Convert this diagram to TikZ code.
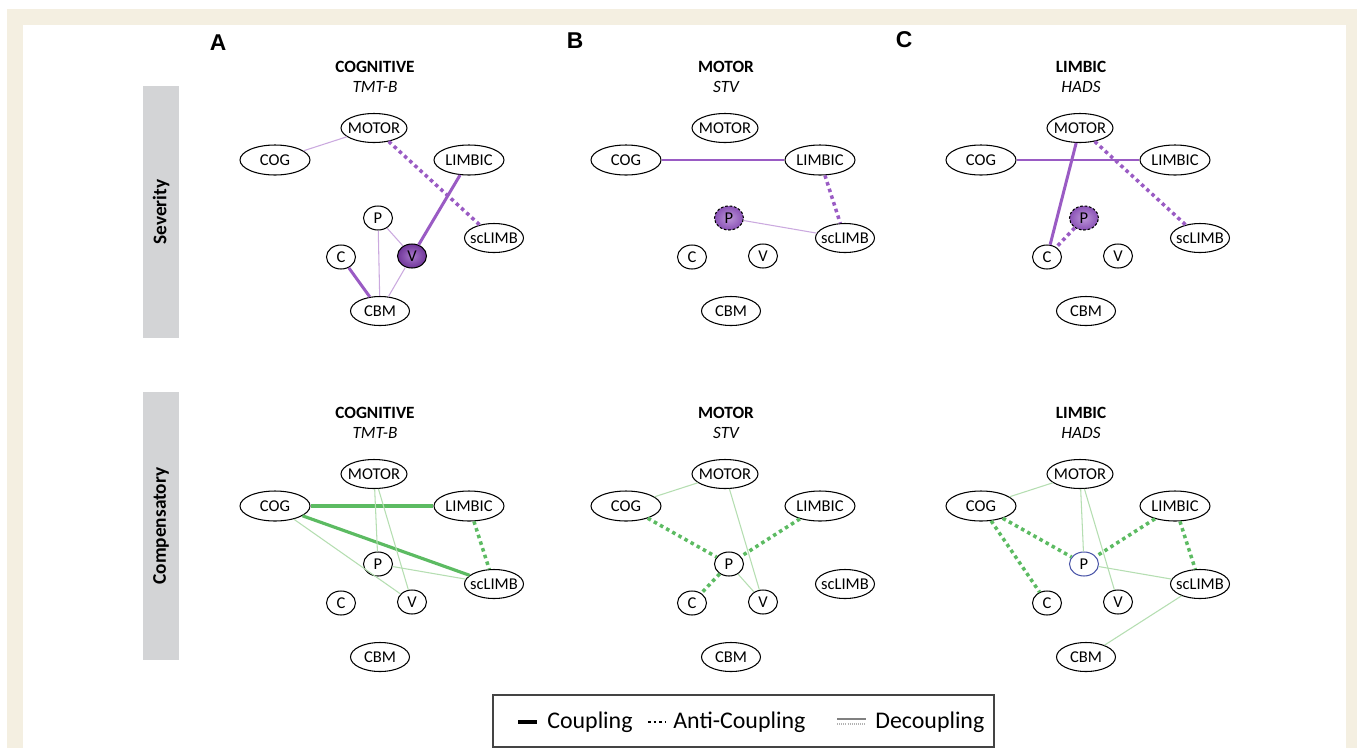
\documentclass[tikz,border=0pt]{standalone}
\usepackage{fontspec}
\setmainfont{Carlito}
\newfontfamily\letterfont{Liberation Sans}
\usetikzlibrary{shapes.geometric}
\definecolor{framebg}{HTML}{F4EFE1}
\definecolor{barfill}{HTML}{D3D4D6}
\definecolor{sevpurple}{HTML}{9A5BC4}
\definecolor{sevlight}{HTML}{CBA9DF}
\definecolor{hubinner}{HTML}{A878CC}
\definecolor{hubouter}{HTML}{6F3598}
\definecolor{pinner}{HTML}{BC96D8}
\definecolor{pouter}{HTML}{8A52B6}
\definecolor{compgreen}{HTML}{5CBB62}
\definecolor{complight}{HTML}{B5DEB1}
\definecolor{pblue}{HTML}{4A55A8}
\definecolor{legframe}{HTML}{444444}

\begin{document}
\begin{tikzpicture}[
    x=0.02cm, y=-0.02cm,
    region/.style={
        ellipse, draw=black, line width=0.6pt, fill=white,
        inner sep=0pt, inner xsep=-3pt, font=\fontsize{9.4}{11}\selectfont
    },
    bigreg/.style={region, minimum width=1.4cm, minimum height=0.6cm},
    motorreg/.style={region, minimum width=1.32cm, minimum height=0.58cm},
    midreg/.style={region, minimum width=1.18cm, minimum height=0.58cm},
    smallreg/.style={region, minimum width=0.58cm, minimum height=0.48cm},
    hilite sevAv/.style={shading=radial, inner color=hubinner, outer color=hubouter},
    hilite sevBp/.style={shading=radial, inner color=pinner, outer color=pouter,
        dash pattern=on 1.5pt off 1pt},
    hilite sevCp/.style={shading=radial, inner color=pinner, outer color=pouter,
        dash pattern=on 1.5pt off 1pt},
    hilite compCp/.style={draw=pblue},
    sevcpl/.style={draw=sevpurple, line width=1.7pt},
    sevanti/.style={draw=sevpurple, line width=2pt, dash pattern=on 2pt off 2pt},
    sevdec/.style={draw=sevlight, line width=0.6pt},
    compcpl/.style={draw=compgreen, line width=1.8pt},
    companti/.style={draw=compgreen, line width=2pt, dash pattern=on 2pt off 2pt},
    compdec/.style={draw=complight, line width=0.6pt},
    rowbar/.style={fill=barfill, rotate=90, minimum height=0.72cm,
        font=\bfseries\fontsize{11}{13}\selectfont},
    paneltitle/.style={font=\bfseries\fontsize{9.8}{11}\selectfont},
    panelsub/.style={font=\itshape\fontsize{9.8}{11}\selectfont},
    panelletter/.style={font=\letterfont\bfseries\fontsize{13}{15}\selectfont},
    legtext/.style={anchor=west, inner sep=0pt, font=\fontsize{13.6}{16}\selectfont}
]

% --- frame ---
\useasboundingbox (0,0) rectangle (1357,748);
\fill[framebg] (7,9) rectangle (1357,748);
\fill[white] (23,25) rectangle (1346,748);

% --- row labels ---
\node[rowbar, minimum width=5.04cm] (sevbar) at (161,212) {Severity};
\node[rowbar, minimum width=5.36cm] (compbar) at (161,526) {Compensatory};

% --- panel letters ---
\node[panelletter] (letA) at (218,43) {A};
\node[panelletter] (letB) at (575,41) {B};
\node[panelletter] (letC) at (904,40) {C};

% --- titles ---
\foreach \dy in {0, 346} {
    \foreach \dx/\ttl/\sub in {0/COGNITIVE/TMT-B, 351/MOTOR/STV, 706/LIMBIC/HADS} {
        \node[paneltitle] at (375+\dx, 67+\dy) {\ttl};
        \node[panelsub] at (375+\dx, 87+\dy) {\sub};
    }
}

% --- network nodes ---
\foreach \row/\dy in {sev/0, comp/346} {
    \foreach \col/\dx in {A/0, B/351, C/706} {
        \foreach \n/\txt/\x/\y/\sz in {motor/MOTOR/374/128/motorreg, cog/COG/275/160/bigreg,
            limbic/LIMBIC/469/160/bigreg, sclimb/scLIMB/494/238/midreg, cbm/CBM/380/311/midreg,
            p/P/378/218/smallreg, c/C/341/257/smallreg, v/V/412/256/smallreg} {
            \node[\sz, hilite \row\col\n/.try] (\row\col\n) at (\x+\dx, \y+\dy) {\txt};
        }
    }
}

% --- severity connections ---
\foreach \a/\b/\s in {sevAmotor/sevAcog/sevdec, sevAmotor/sevAsclimb/sevanti,
    sevAlimbic/sevAv/sevcpl, sevAp/sevAv/sevdec, sevAp/sevAcbm/sevdec,
    sevAc/sevAcbm/sevcpl, sevAv/sevAcbm/sevdec,
    sevBcog/sevBlimbic/sevcpl, sevBlimbic/sevBsclimb/sevanti, sevBp/sevBsclimb/sevdec,
    sevCcog/sevClimbic/sevcpl, sevCmotor/sevCc/sevcpl,
    sevCmotor/sevCsclimb/sevanti, sevCp/sevCc/sevanti} {
    \draw[\s] (\a) -- (\b);
}

% --- compensatory connections ---
\foreach \a/\b/\s in {compAcog/compAlimbic/compcpl, compAcog/compAsclimb/compcpl,
    compAlimbic/compAsclimb/companti, compAmotor/compAp/compdec,
    compAmotor/compAv/compdec, compAcog/compAv/compdec, compAp/compAsclimb/compdec,
    compBmotor/compBcog/compdec, compBmotor/compBv/compdec, compBcog/compBp/companti,
    compBlimbic/compBp/companti, compBp/compBc/companti, compBp/compBv/compdec,
    compCcog/compCmotor/compdec, compCmotor/compCp/compdec, compCmotor/compCv/compdec,
    compCcog/compCp/companti, compCcog/compCc/companti, compClimbic/compCp/companti,
    compClimbic/compCsclimb/companti, compCp/compCsclimb/compdec,
    compCsclimb/compCcbm/compdec} {
    \draw[\s] (\a) -- (\b);
}

% --- legend ---
\node[draw=legframe, line width=1pt, fill=white, minimum width=10.02cm,
    minimum height=1.04cm] (legend) at (743.5,721) {};
\node[legtext] (legcpl) at (547,722) {Coupling};
\node[legtext] (leganti) at (673,722) {Anti-Coupling};
\node[legtext] (legdec) at (875,722) {Decoupling};
\coordinate (cplL) at (518,722);
\coordinate (cplR) at (537,722);
\coordinate (antiL) at (648,722);
\coordinate (antiR) at (666,722);
\coordinate (decL) at (837,719);
\coordinate (decR) at (866,719);
\coordinate (decLL) at (837,724);
\coordinate (decRR) at (866,724);
\draw[line width=2pt] (cplL) -- (cplR);
\draw[line width=1.6pt, dash pattern=on 1.6pt off 1.6pt] (antiL) -- (antiR);
\draw[line width=0.6pt, gray] (decL) -- (decR);
\draw[line width=0.6pt, gray!60, dash pattern=on 0.6pt off 0.6pt] (decLL) -- (decRR);

\end{tikzpicture}
\end{document}
